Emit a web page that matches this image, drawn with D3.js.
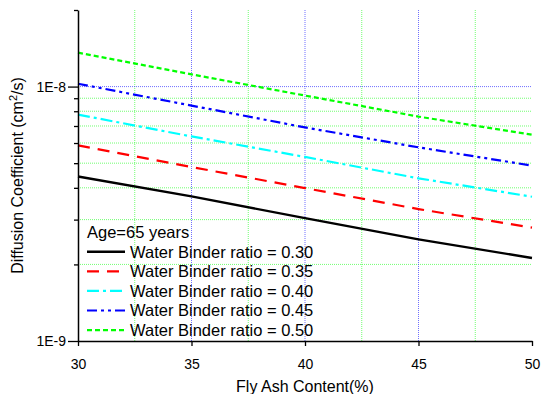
<!DOCTYPE html>
<html>
<head>
<meta charset="utf-8">
<script src="https://cdn.jsdelivr.net/npm/d3@7"></script>
<style>
  body { margin: 0; background: #fff; }
  svg { font-family: "Liberation Sans", Arial, sans-serif; }
</style>
</head>
<body>
<svg id="chart" width="541" height="394"></svg>
<script>
// fly ash content (%)
var flyAsh = [30, 35, 40, 45, 50];
// diffusion coefficient (cm2/s), one list per water binder ratio
var wb030 = [4.43e-9, 3.70e-9, 3.04e-9, 2.51e-9, 2.12e-9];
var wb035 = [5.87e-9, 4.83e-9, 3.99e-9, 3.30e-9, 2.79e-9];
var wb040 = [7.76e-9, 6.37e-9, 5.29e-9, 4.36e-9, 3.69e-9];
var wb045 = [1.026e-8, 8.42e-9, 6.91e-9, 5.77e-9, 4.89e-9];
var wb050 = [1.36e-8, 1.117e-8, 9.22e-9, 7.62e-9, 6.47e-9];
var seriesNames = ["Water Binder ratio = 0.30", "Water Binder ratio = 0.35",
    "Water Binder ratio = 0.40", "Water Binder ratio = 0.45", "Water Binder ratio = 0.50"];
var xTicks = [30, 35, 40, 45, 50];
var xMinor = [32.5, 37.5, 42.5, 47.5];
var yMajor = [1e-9, 1e-8];
var yMinor = [2e-9, 3e-9, 4e-9, 5e-9, 6e-9, 7e-9, 8e-9, 9e-9];
var legendTitle = "Age=65 years";

var styles = [
    { color: "#000000", dash: null, width: 2.4 },
    { color: "#ff0000", dash: "12,8", width: 2.2 },
    { color: "#00ffff", dash: "12,4,3,4", width: 2.2 },
    { color: "#0000ff", dash: "10,4,3,4,3,4", width: 2.2 },
    { color: "#00ff00", dash: "5,3", width: 2.2 }
];

var margin = { top: 10, right: 9, bottom: 53, left: 78 };
var width = 541 - margin.left - margin.right;
var height = 394 - margin.top - margin.bottom;

var svg = d3.select("#chart");
var g = svg.append("g").attr("transform", "translate(" + margin.left + "," + margin.top + ")");

var x = d3.scaleLinear().domain([30, 50]).range([0, width]);
var y = d3.scaleLog().domain([1e-9, 2e-8]).range([height, 0]);

// grid
function vgrid(vals, color) {
    g.append("g").selectAll("line").data(vals).enter().append("line")
        .attr("x1", function (d) { return x(d); }).attr("x2", function (d) { return x(d); })
        .attr("y1", 0).attr("y2", height)
        .attr("stroke", color).attr("stroke-opacity", 0.7)
        .attr("stroke-width", 1).attr("stroke-dasharray", "1,1");
}
function hgrid(vals, color) {
    g.append("g").selectAll("line").data(vals).enter().append("line")
        .attr("x1", 0).attr("x2", width)
        .attr("y1", function (d) { return y(d); }).attr("y2", function (d) { return y(d); })
        .attr("stroke", color).attr("stroke-opacity", 0.7)
        .attr("stroke-width", 1).attr("stroke-dasharray", "1,1");
}
vgrid(xMinor, "#33ff33");
hgrid(yMinor, "#33ff33");
vgrid(xTicks.slice(1, 4), "#3333ff");
hgrid([1e-8], "#3333ff");

// lines
var allSeries = [wb030, wb035, wb040, wb045, wb050];
var line = d3.line()
    .x(function (d, i) { return x(flyAsh[i]); })
    .y(function (d) { return y(d); });

allSeries.forEach(function (s, i) {
    g.append("path")
        .datum(s)
        .attr("fill", "none")
        .attr("stroke", styles[i].color)
        .attr("stroke-width", styles[i].width)
        .attr("stroke-dasharray", styles[i].dash)
        .attr("d", line);
});

// axes
var xAxis = g.append("g")
    .attr("transform", "translate(0," + height + ")")
    .call(d3.axisBottom(x).tickValues(xTicks).tickFormat(d3.format("d")).tickSizeInner(5).tickSizeOuter(0));
var yAxis = g.append("g")
    .call(d3.axisLeft(y).tickValues(yMajor).tickFormat(function (d) { return d === 1e-9 ? "1E-9" : "1E-8"; })
        .tickSizeInner(10).tickSizeOuter(0).tickPadding(2));
g.append("g")
    .call(d3.axisLeft(y).tickValues(yMinor.concat([2e-8])).tickFormat("").tickSizeInner(4).tickSizeOuter(0))
    .select(".domain").remove();

[xAxis, yAxis].forEach(function (a) {
    a.selectAll("text").attr("font-size", 14).attr("fill", "#000").attr("font-family", "Liberation Sans, Arial, sans-serif");
    a.select(".domain").attr("stroke-width", 1.5);
});
xAxis.selectAll("text").attr("dy", "1.45em");
svg.selectAll(".tick line").attr("stroke-width", 1.3);

// axis titles
svg.append("text")
    .attr("x", margin.left + width / 2).attr("y", 392)
    .attr("text-anchor", "middle").attr("font-size", 16)
    .text("Fly Ash Content(%)");

var yt = svg.append("text")
    .attr("transform", "translate(23," + (margin.top + height / 2) + ") rotate(-90)")
    .attr("text-anchor", "middle").attr("font-size", 16);
yt.append("tspan").text("Diffusion Coefficient (cm");
yt.append("tspan").attr("dy", -6).attr("font-size", 11).text("2");
yt.append("tspan").attr("dy", 6).text("/s)");

// legend
var lg = svg.append("g").attr("transform", "translate(87,238)");
lg.append("text").attr("x", 0).attr("y", 0).attr("font-size", 16.5).text(legendTitle);
seriesNames.forEach(function (name, i) {
    var yy = 13.7 + i * 19.6;
    lg.append("line")
        .attr("x1", 0).attr("x2", 38).attr("y1", yy).attr("y2", yy)
        .attr("stroke", styles[i].color)
        .attr("stroke-width", styles[i].width)
        .attr("stroke-dasharray", styles[i].dash);
    lg.append("text").attr("x", 43).attr("y", yy + 5.8).attr("font-size", 16.5).text(name);
});
</script>
</body>
</html>
